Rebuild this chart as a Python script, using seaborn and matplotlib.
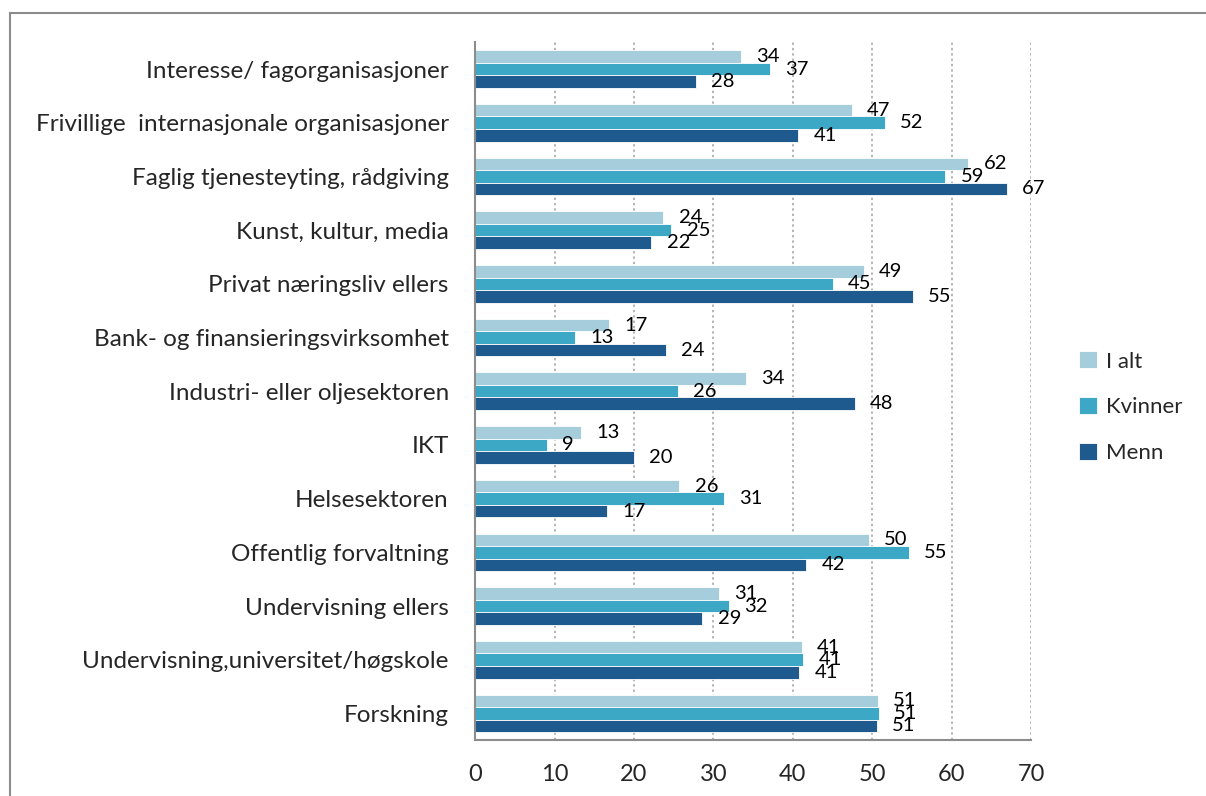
import pandas as pd
import seaborn as sns
import matplotlib.pyplot as plt
from matplotlib.patches import Rectangle
from matplotlib.ticker import MultipleLocator, FixedLocator

# --- data ---
categories = [
    "Interesse/ fagorganisasjoner",
    "Frivillige  internasjonale organisasjoner",
    "Faglig tjenesteyting, rådgiving",
    "Kunst, kultur, media",
    "Privat næringsliv ellers",
    "Bank- og finansieringsvirksomhet",
    "Industri- eller oljesektoren",
    "IKT",
    "Helsesektoren",
    "Offentlig forvaltning",
    "Undervisning ellers",
    "Undervisning,universitet/høgskole",
    "Forskning",
]
i_alt = [33.5, 47.4, 62.1, 23.7, 48.9, 16.9, 34.1, 13.3, 25.7, 49.6, 30.7, 41.1, 50.7]
kvinner = [37.1, 51.6, 59.2, 24.7, 45.0, 12.6, 25.5, 9.0, 31.3, 54.6, 32.0, 41.3, 50.8]
menn = [27.8, 40.7, 66.9, 22.2, 55.1, 24.0, 47.8, 20.0, 16.6, 41.7, 28.6, 40.8, 50.6]
groups = ["I alt", "Kvinner", "Menn"]
colors = ["#A6CDDB", "#3DA8C6", "#1F5A8E"]

df = pd.DataFrame({
    "Kategori": categories * 3,
    "Gruppe": [g for g in groups for _ in categories],
    "Verdi": i_alt + kvinner + menn,
})

sns.set_style("white")
plt.rcParams["font.family"] = ["Lato", "DejaVu Sans"]

fig = plt.figure(figsize=(12.06, 7.96), dpi=100)
ax = fig.add_axes([0.394, 0.070, 0.461, 0.877])

sns.barplot(data=df, x="Verdi", y="Kategori", hue="Gruppe", orient="h",
            palette=colors, saturation=1, width=0.7, edgecolor="white",
            linewidth=0.6, ax=ax)

# value labels (rounded like the original)
for cont, vals in zip(ax.containers, [i_alt, kvinner, menn]):
    ax.bar_label(cont, labels=[f"{round(v):d}" for v in vals], padding=11,
                 fontsize=14.5, color="black")

ax.set_xlim(0, 70)
ax.set_ylim(len(categories) - 0.5, -0.5)
ax.xaxis.set_major_locator(MultipleLocator(10))
ax.grid(axis="x", color="#A0A0A0", linestyle=(0, (1.5, 2)), linewidth=1.1)
ax.set_axisbelow(True)

ax.set_xlabel("")
ax.set_ylabel("")
for side in ["top", "right"]:
    ax.spines[side].set_visible(False)
for side in ["left", "bottom"]:
    ax.spines[side].set_color("#8C8C8C")
    ax.spines[side].set_linewidth(1.5)

ax.tick_params(axis="x", labelsize=17, length=6, width=1.5, color="#8C8C8C",
               pad=11, direction="out")
ax.tick_params(axis="y", which="major", labelsize=17.5, length=0, pad=19)
ax.yaxis.set_minor_locator(FixedLocator([i - 0.5 for i in range(len(categories) + 1)]))
ax.tick_params(axis="y", which="minor", length=7, width=1.5, color="#8C8C8C",
               direction="out")

leg = ax.legend(loc="center left", bbox_to_anchor=(1.05, 0.477), frameon=False,
                fontsize=16, handlelength=0.8, handleheight=0.8,
                labelspacing=1.15, handletextpad=0.4)

# outer chart frame
fig.patches.append(Rectangle((10 / 1206, -0.1), 1.2, 1 - 13 / 796 + 0.1,
                             transform=fig.transFigure, fill=False,
                             edgecolor="#8C8C8C", linewidth=1.5))

fig.savefig("out.png", dpi=100)
